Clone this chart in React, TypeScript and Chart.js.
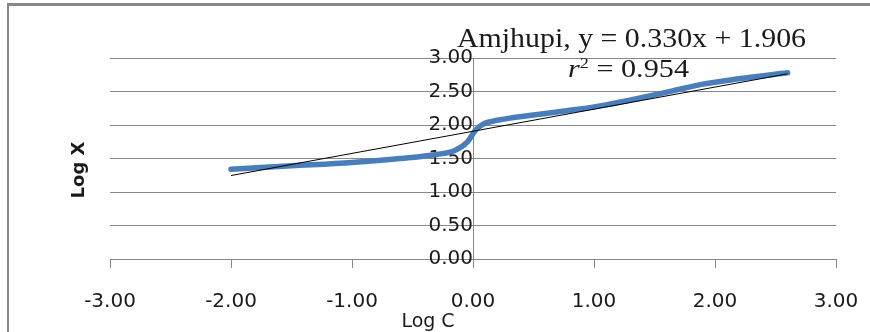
import React, { useEffect, useRef } from "react";
import { Chart, registerables } from "chart.js";

Chart.register(...registerables);

const logC = [-2.0, -1.5, -1.0, -0.6, -0.3, -0.15, -0.05, 0.02, 0.08, 0.2, 0.5, 0.85, 1.1, 1.4, 1.65, 1.9, 2.2, 2.6];
const logX = [1.34, 1.39, 1.44, 1.5, 1.56, 1.62, 1.74, 1.92, 2.01, 2.07, 2.15, 2.23, 2.3, 2.41, 2.51, 2.61, 2.69, 2.78];
const trendC = [-2.0, 2.6];
const trendX = [1.246, 2.764];
const xTicks = [-3, -2, -1, 0, 1, 2, 3];
const yTicks = [0, 0.5, 1, 1.5, 2, 2.5, 3];
const equationText = "Amjhupi, y = 0.330x + 1.906";
const r2Value = "0.954";
const xTitle = "Log C";
const yTitle = "Log X";

const GRID = "#878787";
const TEXT = "#1a1a1a";

const overlay = {
  id: "overlay",
  beforeDraw(chart: any) {
    const ctx = chart.ctx;
    ctx.save();
    ctx.fillStyle = "#ffffff";
    ctx.fillRect(0, 0, chart.width, chart.height);
    ctx.fillStyle = GRID;
    ctx.fillRect(7, 3, chart.width, 3);
    ctx.fillRect(7, 3, 2, chart.height);
    ctx.restore();
  },
  afterDraw(chart: any) {
    const ctx = chart.ctx;
    ctx.save();
    ctx.fillStyle = TEXT;
    ctx.textBaseline = "alphabetic";
    ctx.textAlign = "left";
    // equation line
    ctx.font = '27px "Liberation Serif"';
    const w1 = ctx.measureText(equationText).width;
    ctx.save();
    ctx.translate(457, 47);
    ctx.scale(349 / w1, 1);
    ctx.fillText(equationText, 0, 0);
    ctx.restore();
    // r^2 line
    const rest = " = " + r2Value;
    ctx.font = 'italic 25px "Liberation Serif"';
    const wr = ctx.measureText("r").width;
    ctx.font = '15px "Liberation Serif"';
    const ws = ctx.measureText("2").width;
    ctx.font = '25px "Liberation Serif"';
    const wrest = ctx.measureText(rest).width;
    const total = wr + ws + wrest;
    ctx.save();
    ctx.translate(568, 77);
    ctx.scale(121 / total, 1);
    ctx.font = 'italic 25px "Liberation Serif"';
    ctx.fillText("r", 0, 0);
    ctx.font = '15px "Liberation Serif"';
    ctx.fillText("2", wr, -9);
    ctx.font = '25px "Liberation Serif"';
    ctx.fillText(rest, wr + ws, 0);
    ctx.restore();
    // axis titles
    ctx.font = '19px "DejaVu Sans"';
    ctx.textAlign = "center";
    ctx.fillText(xTitle, 428, 327);
    ctx.save();
    ctx.translate(84, 170);
    ctx.rotate(-Math.PI / 2);
    ctx.font = 'bold 18px "DejaVu Sans"';
    ctx.fillText(yTitle, 0, 0);
    ctx.restore();
    ctx.restore();
  },
};

const zeroPad = (s: any) => {
  s.paddingLeft = 0;
  s.paddingRight = 0;
  s.paddingTop = 0;
  s.paddingBottom = 0;
};

export default function App() {
  const ref = useRef<HTMLCanvasElement | null>(null);
  useEffect(() => {
    if (!ref.current) return;
    const chart = new Chart(ref.current, {
      type: "scatter",
      data: {
        datasets: [
          {
            label: "trend",
            data: trendC.map((c, i) => ({ x: c, y: trendX[i] })),
            showLine: true,
            borderColor: "#000000",
            borderWidth: 1,
            pointRadius: 0,
            order: 0,
          },
          {
            label: "Amjhupi",
            data: logC.map((c, i) => ({ x: c, y: logX[i] })),
            showLine: true,
            borderColor: "#4A7EBB",
            borderWidth: 5.5,
            pointRadius: 0,
            cubicInterpolationMode: "monotone",
            borderCapStyle: "round",
            order: 1,
          },
        ],
      },
      options: {
        responsive: false,
        animation: false,
        layout: { padding: { left: 110, right: 34, top: 58, bottom: 73 } },
        plugins: { legend: { display: false }, tooltip: { enabled: false } },
        scales: {
          x: {
            type: "linear",
            min: -3,
            max: 3,
            position: { y: 0 },
            afterBuildTicks: (s: any) => {
              s.ticks = xTicks.map((v) => ({ value: v }));
            },
            afterFit: zeroPad,
            grid: { drawOnChartArea: false, drawTicks: true, tickLength: 8, color: GRID },
            border: { display: true, color: GRID },
            ticks: {
              padding: 23,
              color: TEXT,
              font: { family: "DejaVu Sans", size: 20 },
              maxRotation: 0,
              callback: (v: any) => Number(v).toFixed(2),
            },
          },
          y: {
            type: "linear",
            min: 0,
            max: 3,
            position: { x: 0 },
            afterBuildTicks: (s: any) => {
              s.ticks = yTicks.map((v) => ({ value: v }));
            },
            afterFit: zeroPad,
            grid: { drawTicks: false, color: GRID },
            border: { display: true, color: GRID },
            ticks: {
              padding: 27,
              color: TEXT,
              font: { family: "DejaVu Sans", size: 20 },
              callback: (v: any) => Number(v).toFixed(2),
            },
          },
        },
      },
      plugins: [overlay],
    } as any);
    return () => chart.destroy();
  }, []);
  return (
    <div style={{ position: "fixed", left: 0, top: 0, width: 870, height: 332, background: "#fff" }}>
      <canvas ref={ref} width={870} height={332} style={{ display: "block" }} />
    </div>
  );
}
